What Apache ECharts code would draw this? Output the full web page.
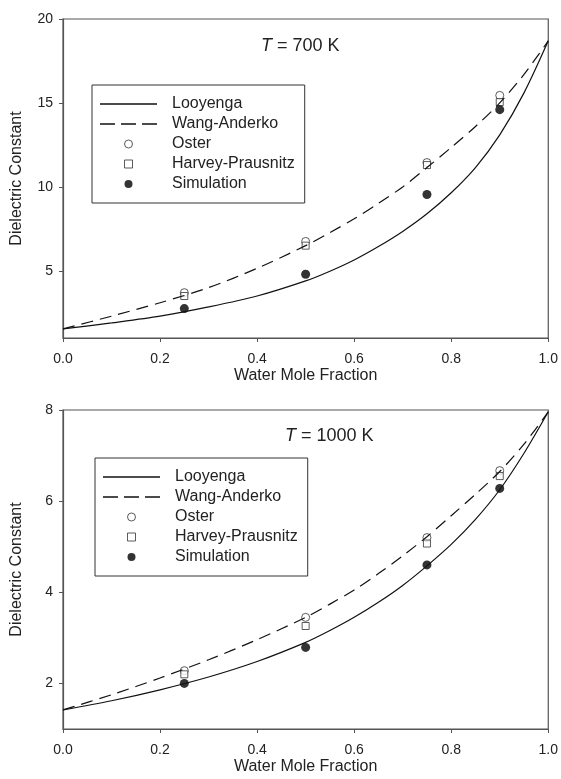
<!DOCTYPE html>
<html lang="en">
<head>
  <meta charset="UTF-8">
  <title>Dielectric Constant vs Water Mole Fraction</title>
  <script src="https://cdn.jsdelivr.net/npm/echarts@6/dist/echarts.min.js"></script>
  <style>
    html, body { margin: 0; padding: 0; background: #fff; }
  </style>
</head>

<body>
<div id="main" style="width:561px;height:779px;"></div>
<script type="text/javascript">
  // model curves
  var curveX = [0, 0.1, 0.2, 0.3, 0.4, 0.5, 0.55, 0.6, 0.65, 0.7, 0.75, 0.8, 0.85, 0.9, 0.95, 1.0];
  var looyenga700 = [1.54, 1.9, 2.3, 2.85, 3.5, 4.4, 4.98, 5.65, 6.45, 7.35, 8.4, 9.65, 11.15, 13.1, 15.6, 18.7];
  var wang700 = [1.54, 2.3, 3.1, 4.0, 5.15, 6.5, 7.28, 8.1, 9.02, 10.0, 11.15, 12.35, 13.6, 15.0, 16.7, 18.7];
  var looyenga1000 = [1.42, 1.62, 1.86, 2.14, 2.48, 2.9, 3.16, 3.45, 3.78, 4.15, 4.58, 5.05, 5.6, 6.25, 7.05, 7.96];
  var wang1000 = [1.42, 1.75, 2.12, 2.52, 2.96, 3.45, 3.74, 4.05, 4.41, 4.8, 5.22, 5.68, 6.15, 6.65, 7.25, 7.96];

  // data points
  var pointX = [0.25, 0.5, 0.75, 0.9];
  var oster700 = [3.7, 6.75, 11.45, 15.45];
  var harvey700 = [3.5, 6.5, 11.3, 15.05];
  var sim700 = [2.75, 4.8, 9.55, 14.6];
  var oster1000 = [2.28, 3.45, 5.2, 6.67];
  var harvey1000 = [2.2, 3.26, 5.07, 6.55];
  var sim1000 = [2.0, 2.79, 4.6, 6.28];

  var yTicks700 = [5, 10, 15, 20];
  var yTicks1000 = [2, 4, 6, 8];
  var names = ['Looyenga', 'Wang-Anderko', 'Oster', 'Harvey-Prausnitz', 'Simulation'];

  var FONT = 'Liberation Sans, Arial, sans-serif';
  var AXIS = '#555';
  var INK = '#222';

  function pairs(xs, ys) {
    return xs.map(function (x, i) { return [x, ys[i]]; });
  }

  var chartDom = document.getElementById('main');
  var myChart = echarts.init(chartDom);

  function xAxisFor(idx) {
    return {
      type: 'value', gridIndex: idx, min: 0, max: 1, interval: 0.2,
      name: 'Water Mole Fraction', nameLocation: 'middle', nameGap: 30,
      nameTextStyle: { fontFamily: FONT, fontSize: 16, color: INK },
      axisLine: { lineStyle: { color: AXIS, width: 1.2 } },
      axisTick: { inside: false, length: 4, lineStyle: { color: AXIS } },
      axisLabel: { margin: 14, fontFamily: FONT, fontSize: 14, color: INK,
        formatter: function (v) { return v.toFixed(1); } },
      splitLine: { show: false }
    };
  }

  function yAxisFor(idx, max, ticks) {
    return {
      type: 'value', gridIndex: idx, min: 1, max: max,
      name: 'Dielectric Constant', nameLocation: 'middle', nameGap: 38,
      nameTextStyle: { fontFamily: FONT, fontSize: 16, color: INK },
      axisLine: { show: true, lineStyle: { color: AXIS, width: 1.2 } },
      axisTick: { show: true, length: 4, customValues: ticks, lineStyle: { color: AXIS } },
      axisLabel: { margin: 10, fontFamily: FONT, fontSize: 14, color: INK, customValues: ticks },
      splitLine: { show: false }
    };
  }

  function seriesFor(idx, looy, wang, oster, harvey, sim) {
    return [
      { name: 'Looyenga', type: 'line', xAxisIndex: idx, yAxisIndex: idx,
        data: pairs(curveX, looy), smooth: 0.3, symbol: 'none',
        lineStyle: { color: '#111', width: 1.2 }, itemStyle: { color: '#111' } },
      { name: 'Wang-Anderko', type: 'line', xAxisIndex: idx, yAxisIndex: idx,
        data: pairs(curveX, wang), smooth: 0.3, symbol: 'none',
        lineStyle: { color: '#111', width: 1.2, type: [12, 7] }, itemStyle: { color: '#111' } },
      { name: 'Oster', type: 'scatter', xAxisIndex: idx, yAxisIndex: idx,
        data: pairs(pointX, oster), symbol: 'circle', symbolSize: 8,
        itemStyle: { color: '#fff', borderColor: '#333', borderWidth: 1 } },
      { name: 'Harvey-Prausnitz', type: 'scatter', xAxisIndex: idx, yAxisIndex: idx,
        data: pairs(pointX, harvey), symbol: 'rect', symbolSize: 7,
        itemStyle: { color: '#fff', borderColor: '#333', borderWidth: 1 } },
      { name: 'Simulation', type: 'scatter', xAxisIndex: idx, yAxisIndex: idx,
        data: pairs(pointX, sim), symbol: 'circle', symbolSize: 9,
        itemStyle: { color: '#000' } }
    ];
  }

  // legend icons drawn as paths so the lines carry no marker
  var legendItems = [
    { name: 'Looyenga', icon: 'path://M0,0h57v1.6h-57z', itemStyle: { color: '#111' } },
    { name: 'Wang-Anderko', icon: 'path://M0,0h15v1.6h-15z M21,0h15v1.6h-15z M42,0h15v1.6h-15z', itemStyle: { color: '#111' } },
    { name: 'Oster', icon: 'circle', itemStyle: { color: '#fff', borderColor: '#333', borderWidth: 1 } },
    { name: 'Harvey-Prausnitz', icon: 'path://M0,0h10v10h-10z', itemStyle: { color: '#fff', borderColor: '#333', borderWidth: 1 } },
    { name: 'Simulation', icon: 'circle', itemStyle: { color: '#000' } }
  ];

  function legendAt(left, top) {
    return {
      data: legendItems, orient: 'vertical', left: left, top: top,
      itemWidth: 57, itemHeight: 8, itemGap: 0,
      borderColor: '#333', borderWidth: 1,
      padding: [9, 10, 9, 8],
      selectedMode: false,
      textStyle: { fontFamily: FONT, fontSize: 16, color: INK, lineHeight: 20, padding: [0, 0, 0, 10] }
    };
  }

  var option = {
    animation: false,
    backgroundColor: '#fff',
    title: [
      { text: '{i|T} = 700 K', left: 256, top: 32,
        textStyle: { fontFamily: FONT, fontSize: 18, fontWeight: 'normal', color: INK,
          rich: { i: { fontFamily: FONT, fontSize: 18, fontStyle: 'italic', color: INK } } } },
      { text: '{i|T} = 1000 K', left: 280, top: 422,
        textStyle: { fontFamily: FONT, fontSize: 18, fontWeight: 'normal', color: INK,
          rich: { i: { fontFamily: FONT, fontSize: 18, fontStyle: 'italic', color: INK } } } }
    ],
    legend: [legendAt(92, 85), legendAt(95, 458)],
    grid: [
      { left: 63, top: 19, width: 487, height: 319, show: true, borderColor: AXIS, borderWidth: 1.2 },
      { left: 63, top: 410, width: 487, height: 319, show: true, borderColor: AXIS, borderWidth: 1.2 }
    ],
    xAxis: [xAxisFor(0), xAxisFor(1)],
    yAxis: [yAxisFor(0, 20, yTicks700), yAxisFor(1, 8, yTicks1000)],
    series: seriesFor(0, looyenga700, wang700, oster700, harvey700, sim700)
      .concat(seriesFor(1, looyenga1000, wang1000, oster1000, harvey1000, sim1000))
  };

  option && myChart.setOption(option);
</script>
</body>
</html>
